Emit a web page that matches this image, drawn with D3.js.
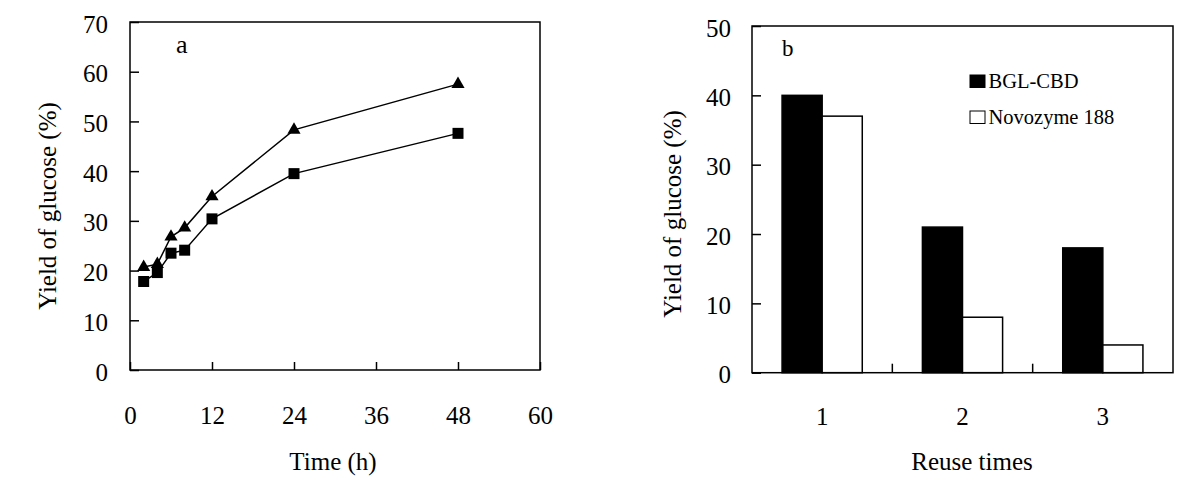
<!DOCTYPE html>
<html>
<head>
<meta charset="utf-8">
<script src="https://cdn.jsdelivr.net/npm/d3@7"></script>
<style>
  body { margin: 0; background: #fff; }
  svg text { font-family: "Liberation Serif", "Times New Roman", serif; fill: #000; }
</style>
</head>
<body>
<div id="container"></div>
<script>
/* DATA */
const times = [2, 4, 6, 8, 12, 24, 48];
const triangleYield = [20.7, 21.3, 26.8, 28.6, 34.9, 48.3, 57.5];
const squareYield = [17.8, 19.6, 23.5, 24.1, 30.4, 39.5, 47.6];
const xTicksA = [0, 12, 24, 36, 48, 60];
const yTicksA = [0, 10, 20, 30, 40, 50, 60, 70];

const reuseTimes = ["1", "2", "3"];
const seriesNames = ["BGL-CBD", "Novozyme 188"];
const bglCbd = [40, 21, 18];
const novozyme = [37, 8, 4];
const yTicksB = [0, 10, 20, 30, 40, 50];

/* SVG */
const svg = d3.select("#container")
  .append("svg")
  .attr("width", 1200)
  .attr("height", 497)

const fs = 25;

/* ---------- PANEL A ---------- */
const xA = d3.scaleLinear().domain([0, 60]).range([130, 540])
const yA = d3.scaleLinear().domain([0, 70]).range([370, 22])

const gA = svg.append("g")

gA.append("rect")
  .attr("x", xA(0)).attr("y", yA(70))
  .attr("width", xA(60) - xA(0)).attr("height", yA(0) - yA(70))
  .attr("fill", "none").attr("stroke", "#000").attr("stroke-width", 1.5)

const axA_y = gA.append("g")
  .attr("transform", `translate(${xA(0)},0)`)
  .call(d3.axisLeft(yA).tickValues(yTicksA).tickSize(-9).tickPadding(22))
const axA_x = gA.append("g")
  .attr("transform", `translate(0,${yA(0)})`)
  .call(d3.axisBottom(xA).tickValues(xTicksA).tickSize(-8).tickPadding(36))

for (const ax of [axA_y, axA_x]) {
  ax.select(".domain").remove()
  ax.selectAll("line").attr("stroke", "#000").attr("stroke-width", 1.5)
  ax.selectAll("text").attr("font-size", fs).attr("font-family", "Liberation Serif")
}
axA_y.selectAll("text").attr("dy", "0.4em")

const line = d3.line()
  .x(d => xA(d[0]))
  .y(d => yA(d[1]))

const triData = times.map((t, i) => [t, triangleYield[i]])
const sqData = times.map((t, i) => [t, squareYield[i]])

gA.append("path").datum(triData).attr("d", line)
  .attr("fill", "none").attr("stroke", "#000").attr("stroke-width", 1.5)
gA.append("path").datum(sqData).attr("d", line)
  .attr("fill", "none").attr("stroke", "#000").attr("stroke-width", 1.5)

gA.selectAll(".tri")
  .data(triData)
  .join("path")
  .attr("class", "tri")
  .attr("transform", d => `translate(${xA(d[0])},${yA(d[1])})`)
  .attr("d", d3.symbol(d3.symbolTriangle, 75))
  .attr("fill", "#000")

gA.selectAll(".sq")
  .data(sqData)
  .join("path")
  .attr("class", "sq")
  .attr("transform", d => `translate(${xA(d[0])},${yA(d[1])})`)
  .attr("d", d3.symbol(d3.symbolSquare, 121))
  .attr("fill", "#000")

gA.append("text").attr("x", 176).attr("y", 53).attr("font-size", 26).text("a")

gA.append("text")
  .attr("transform", "translate(56,206) rotate(-90)")
  .attr("text-anchor", "middle").attr("font-size", fs)
  .text("Yield of glucose (%)")

gA.append("text")
  .attr("x", 333).attr("y", 470)
  .attr("text-anchor", "middle").attr("font-size", fs)
  .text("Time (h)")

/* ---------- PANEL B ---------- */
const xB = d3.scaleBand().domain(reuseTimes).range([752, 1173])
const xB1 = d3.scaleBand().domain(seriesNames).range([0, xB.bandwidth()]).paddingOuter(0.75)
const yB = d3.scaleLinear().domain([0, 50]).range([372.7, 26])

const gB = svg.append("g")

const axB_y = gB.append("g")
  .attr("transform", `translate(${xB.range()[0]},0)`)
  .call(d3.axisLeft(yB).tickValues(yTicksB).tickSize(-9).tickPadding(21))
axB_y.select(".domain").remove()
axB_y.selectAll("line").attr("stroke", "#000").attr("stroke-width", 1.5)
axB_y.selectAll("text").attr("font-size", fs).attr("font-family", "Liberation Serif").attr("dy", "0.4em")

const barRows = reuseTimes.map((r, i) => ({ r, values: [
  { s: seriesNames[0], v: bglCbd[i] },
  { s: seriesNames[1], v: novozyme[i] }
]}))

gB.selectAll(".grp")
  .data(barRows)
  .join("g")
  .attr("class", "grp")
  .attr("transform", d => `translate(${xB(d.r)},0)`)
  .selectAll("rect")
  .data(d => d.values)
  .join("rect")
  .attr("x", d => xB1(d.s))
  .attr("y", d => yB(d.v))
  .attr("width", xB1.bandwidth())
  .attr("height", d => yB(0) - yB(d.v))
  .attr("fill", d => d.s === seriesNames[0] ? "#000" : "#fff")
  .attr("stroke", "#000").attr("stroke-width", 1.5)

// frame
gB.append("rect")
  .attr("x", xB.range()[0]).attr("y", yB(50))
  .attr("width", xB.range()[1] - xB.range()[0]).attr("height", yB(0) - yB(50))
  .attr("fill", "none").attr("stroke", "#000").attr("stroke-width", 1.5)

// category separators
gB.selectAll(".sep")
  .data(reuseTimes.slice(1))
  .join("line")
  .attr("class", "sep")
  .attr("x1", d => xB(d)).attr("x2", d => xB(d))
  .attr("y1", yB(0)).attr("y2", yB(0) - 9)
  .attr("stroke", "#000").attr("stroke-width", 1.5)

gB.selectAll(".xlab")
  .data(reuseTimes)
  .join("text")
  .attr("class", "xlab")
  .attr("x", d => xB(d) + xB.bandwidth() / 2)
  .attr("y", 425)
  .attr("text-anchor", "middle").attr("font-size", fs)
  .text(d => d)

gB.append("text").attr("x", 782).attr("y", 55.5).attr("font-size", 23).text("b")

// legend
const legend = gB.selectAll(".leg")
  .data(seriesNames)
  .join("g")
  .attr("class", "leg")
  .attr("transform", (d, i) => `translate(970,${75 + i * 36})`)
legend.append("rect")
  .attr("width", 15).attr("height", 12.5)
  .attr("fill", (d, i) => i === 0 ? "#000" : "#fff")
  .attr("stroke", "#000").attr("stroke-width", 1)
legend.append("text")
  .attr("x", 18.5).attr("y", 12.5)
  .attr("font-size", 20.5)
  .text(d => d)

gB.append("text")
  .attr("transform", "translate(681,214) rotate(-90)")
  .attr("text-anchor", "middle").attr("font-size", fs)
  .text("Yield of glucose (%)")

gB.append("text")
  .attr("x", 972).attr("y", 470)
  .attr("text-anchor", "middle").attr("font-size", fs)
  .text("Reuse times")
</script>
</body>
</html>
